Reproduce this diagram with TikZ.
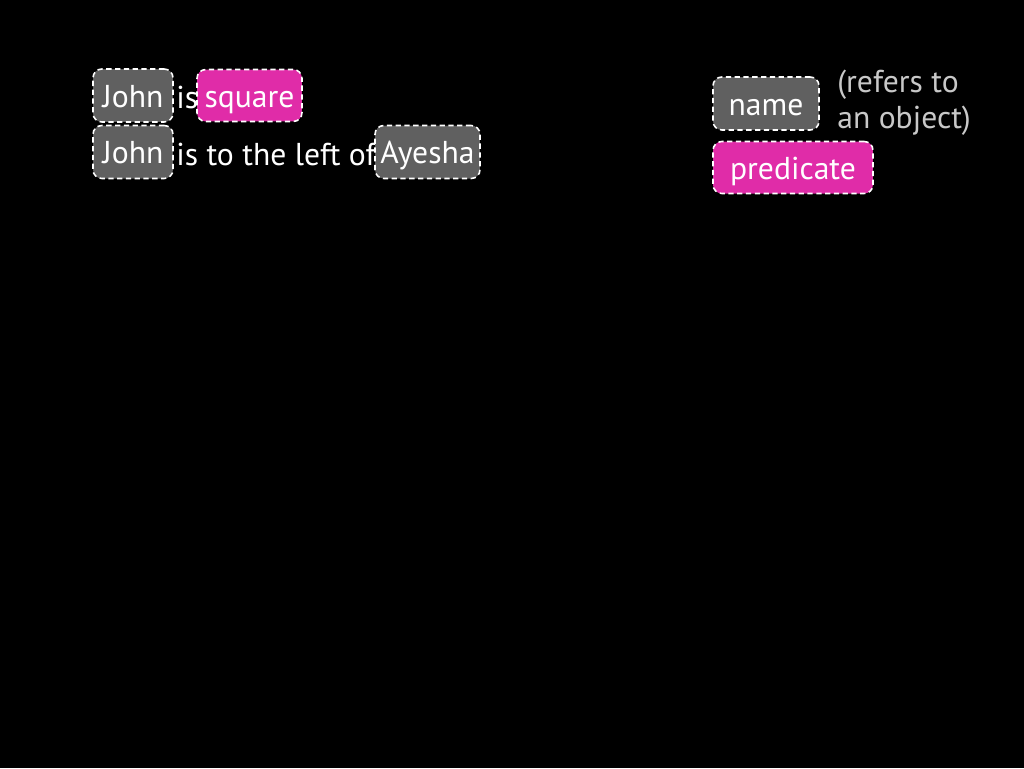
\documentclass[tikz,border=0pt]{standalone}
\usepackage{fontspec}
\setmainfont{PT Sans}
\usepackage{tikz}

\definecolor{boxgray}{RGB}{96,96,96}
\definecolor{boxpink}{RGB}{224,44,168}
\definecolor{notegray}{RGB}{200,200,200}

\tikzset{
  tag/.style={draw=white, dashed, dash pattern=on 3pt off 2pt, line width=0.9pt,
    rounded corners=5pt, text=white, inner sep=0pt,
    text height=0.54cm, text depth=0.08cm, font=\fontsize{18}{21}\selectfont},
  nametag/.style={tag, fill=boxgray},
  predtag/.style={tag, fill=boxpink},
  plain/.style={text=white, inner sep=0pt, anchor=base west, font=\fontsize{18}{21}\selectfont}
}

\begin{document}
\begin{tikzpicture}[x=0.02cm, y=-0.02cm]
        \fill[black] (0, 0) rectangle (1024, 768);
        \useasboundingbox (0, 0) rectangle (1024, 768);

        % first sentence
        \node[nametag, minimum width=1.6cm, minimum height=1.06cm] (john1) at (133, 95.5) {John};
        \node[plain] (is) at (176, 108) {is};
        \node[predtag, minimum width=2.1cm, minimum height=1.04cm] (square) at (249.5, 95.5) {square};

        % second sentence
        \node[nametag, minimum width=1.6cm, minimum height=1.06cm] (john2) at (133, 152) {John};
        \node[plain] (leftof) at (176, 165) {is to the left of};
        \node[nametag, minimum width=2.1cm, minimum height=1.06cm] (ayesha) at (427.5, 152) {Ayesha};

        % legend
        \node[nametag, minimum width=2.12cm, minimum height=1.06cm] (name) at (766, 103.5) {name};
        \node[predtag, minimum width=3.2cm, minimum height=1.04cm] (predicate) at (793, 167.5) {predicate};
        \node[plain, text=notegray] (refers) at (837, 92) {(refers to};
        \node[plain, text=notegray] (object) at (837, 128) {an object)};

    \end{tikzpicture}
\end{document}
